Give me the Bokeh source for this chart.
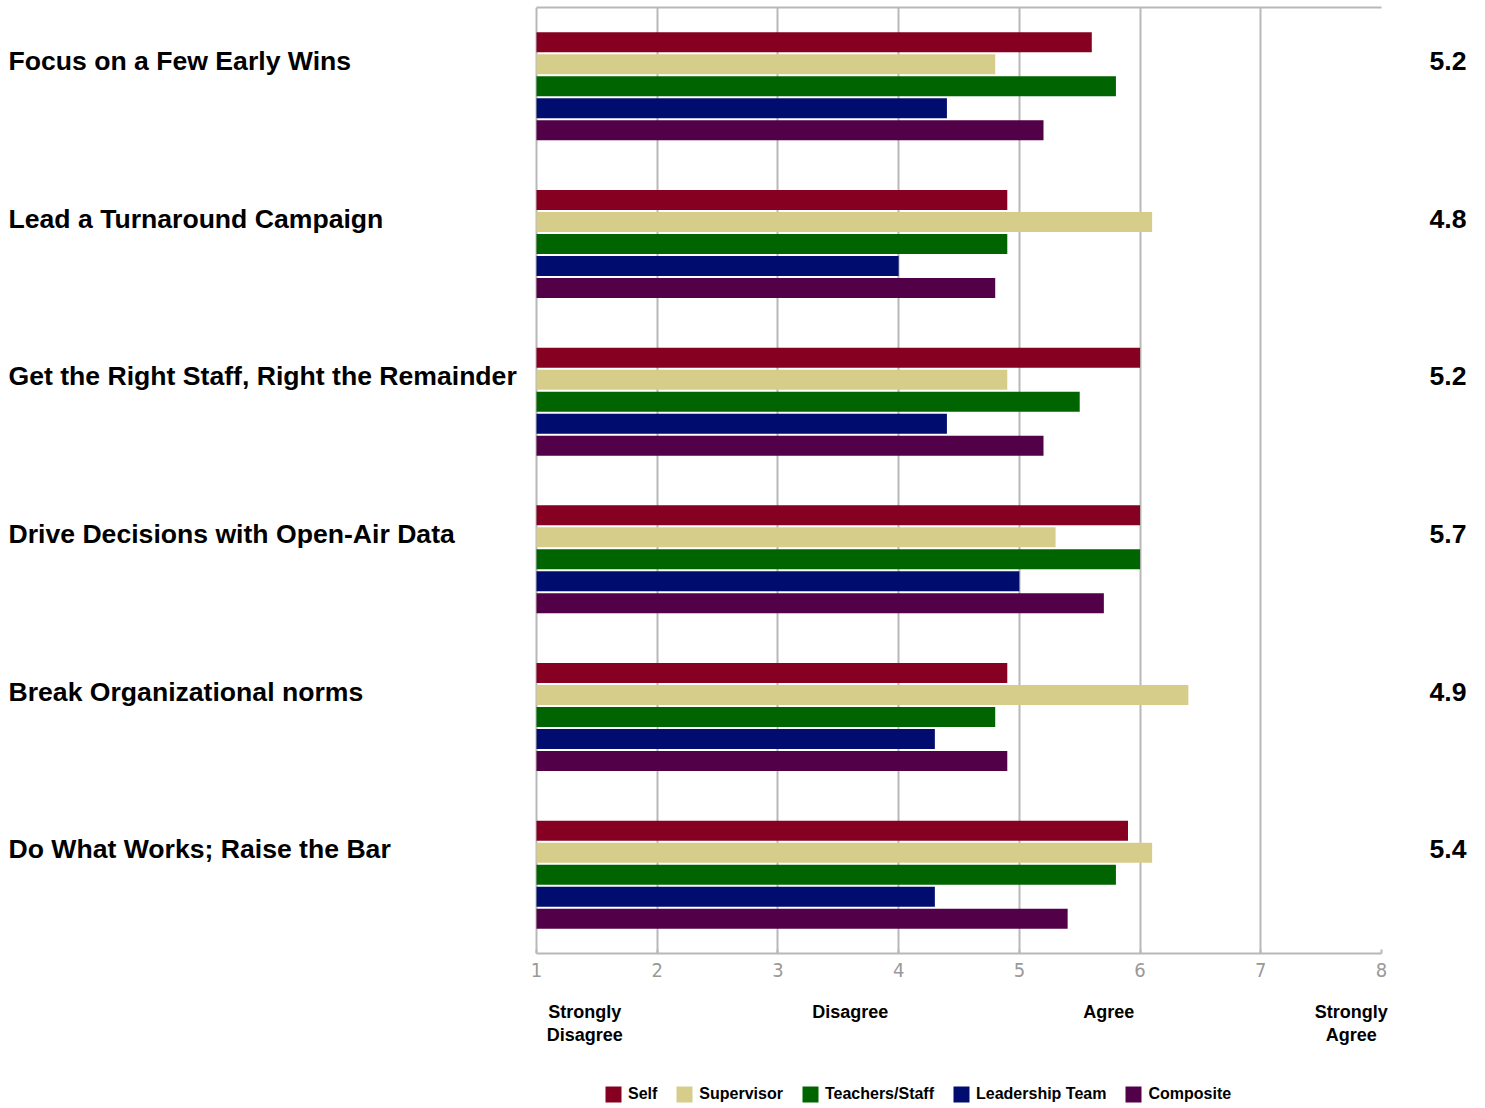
from bokeh.plotting import figure
from bokeh.models import (Range1d, FixedTicker, LinearAxis, ColumnDataSource,
                          Legend, LegendItem, Grid)
from bokeh.layouts import column
from bokeh.core.properties import value
from bokeh.embed import file_html
from bokeh.resources import INLINE

# ---------------- data ----------------
categories = [
    "Focus on a Few Early Wins",
    "Lead a Turnaround Campaign",
    "Get the Right Staff, Right the Remainder",
    "Drive Decisions with Open-Air Data",
    "Break Organizational norms",
    "Do What Works; Raise the Bar",
]
series_names = ["Self", "Supervisor", "Teachers/Staff", "Leadership Team", "Composite"]
self_vals = [5.6, 4.9, 6.0, 6.0, 4.9, 5.9]
supervisor_vals = [4.8, 6.1, 4.9, 5.3, 6.4, 6.1]
teachers_vals = [5.8, 4.9, 5.5, 6.0, 4.8, 5.8]
leadership_vals = [4.4, 4.0, 4.4, 5.0, 4.3, 4.3]
composite_vals = [5.2, 4.8, 5.2, 5.7, 4.9, 5.4]
x_ticks = [1, 2, 3, 4, 5, 6, 7, 8]
scale_labels = ["Strongly\nDisagree", "Disagree", "Agree", "Strongly\nAgree"]

# ---------------- styling / layout ----------------
colors = ["#850021", "#D7CD8B", "#006400", "#000C6E", "#520048"]
scale_label_pos = [1.40, 3.60, 5.74, 7.75]
W, H = 1485, 1108
H_LEG = 48
H_MAIN = H - H_LEG
PLOT_L, PLOT_R = 536, 1381          # pixel extent of the 1..8 scale
PX = (PLOT_R - PLOT_L) / 7.0        # pixels per unit
X0 = 1 - PLOT_L / PX
X1 = 8 + (W - PLOT_R) / PX
BAR_STEP = 0.1395
BAR_H = 0.127
LABEL_SHIFT = 0.16
GRID = "#b8b8b8"
FONT = "Liberation Sans"

p = figure(
    width=W, height=H_MAIN,
    x_range=Range1d(X0, X1), y_range=Range1d(6, 0),
    output_backend="svg", toolbar_location=None,
    y_axis_location=None, x_axis_location=None,
    min_border_left=0, min_border_right=0,
    min_border_top=7, min_border_bottom=H_MAIN - 953,
    outline_line_color=None,
    background_fill_color="white", border_fill_color="white",
)

all_vals = [self_vals, supervisor_vals, teachers_vals, leadership_vals, composite_vals]
sources = []
for j, (name, vals, col) in enumerate(zip(series_names, all_vals, colors)):
    src = ColumnDataSource(dict(
        y=[i + 0.5 + (j - 2) * BAR_STEP for i in range(len(categories))],
        right=vals,
    ))
    sources.append(src)
    p.hbar(y="y", left=x_ticks[0], right="right", height=BAR_H, source=src,
           fill_color=col, line_color=None)

# top border line (axis with no ticks)
top_axis = LinearAxis(ticker=FixedTicker(ticks=[]), bounds=(x_ticks[0], x_ticks[-1]),
                      axis_line_color=GRID, axis_line_width=2,
                      major_tick_in=0, major_tick_out=0, minor_tick_in=0, minor_tick_out=0)
p.add_layout(top_axis, "above")

# main x axis
xa = LinearAxis(ticker=FixedTicker(ticks=x_ticks), bounds=(x_ticks[0], x_ticks[-1]))
xa.axis_line_color = GRID
xa.axis_line_width = 2
xa.major_tick_in = 4
xa.major_tick_out = 0
xa.major_tick_line_color = GRID
xa.major_tick_line_width = 2
xa.minor_tick_line_color = None
xa.major_label_text_color = "#999999"
xa.major_label_text_font = "DejaVu Sans Condensed"
xa.major_label_text_font_size = "20px"
xa.major_label_standoff = 9
p.add_layout(xa, "below")

# scale descriptor axis
sa = LinearAxis(ticker=FixedTicker(ticks=scale_label_pos),
                major_label_overrides={pos: t for pos, t in zip(scale_label_pos, scale_labels)})
sa.axis_line_color = None
sa.major_tick_line_color = None
sa.minor_tick_line_color = None
sa.major_tick_in = 0
sa.major_tick_out = 0
sa.major_label_text_font = FONT
sa.major_label_text_font_style = "bold"
sa.major_label_text_font_size = "18px"
sa.major_label_text_color = "black"
sa.major_label_text_line_height = 1.15
sa.major_label_standoff = 22
p.add_layout(sa, "below")

# grid
p.xgrid.visible = False
p.ygrid.visible = False
p.add_layout(Grid(dimension=0, ticker=FixedTicker(ticks=x_ticks[:-1]),
                  grid_line_color=GRID, grid_line_width=2))

# category labels (left) and composite values (right)
lab_src = ColumnDataSource(dict(
    y=[i + 0.5 - LABEL_SHIFT for i in range(len(categories))],
    cat=categories,
    val=["%.1f" % v for v in composite_vals],
))
p.text(x=x_ticks[0], y="y", text="cat", source=lab_src, x_offset=-(PLOT_L - 8),
       text_font=value(FONT), text_font_style="bold", text_font_size="26.6px",
       text_color="black", text_baseline="middle", text_align="left")
p.text(x=x_ticks[-1], y="y", text="val", source=lab_src, x_offset=85,
       text_font=value(FONT), text_font_style="bold", text_font_size="26.6px",
       text_color="black", text_baseline="middle", text_align="right")

# legend strip (hidden copies of the bar renderers supply the swatches)
p2 = figure(
    width=W, height=H_LEG, x_range=Range1d(0, W), y_range=Range1d(0, H_LEG),
    output_backend="svg", toolbar_location=None,
    x_axis_location=None, y_axis_location=None,
    min_border=0, outline_line_color=None,
    background_fill_color="white", border_fill_color="white",
)
p2.xgrid.visible = False
p2.ygrid.visible = False
leg_renderers = []
for src, col in zip(sources, colors):
    r = p2.hbar(y="y", left=x_ticks[0], right="right", height=BAR_H, source=src,
                fill_color=col, line_color=None, visible=False)
    leg_renderers.append(r)

lg = Legend(items=[LegendItem(label=n, renderers=[r], index=0)
                   for n, r in zip(series_names, leg_renderers)])
lg.location = (603, 4)
lg.orientation = "horizontal"
lg.glyph_width = 20
lg.glyph_height = 20
lg.label_height = 16
lg.label_standoff = 5
lg.spacing = 17
lg.padding = 0
lg.margin = 0
lg.border_line_color = None
lg.background_fill_alpha = 0
lg.inactive_fill_alpha = 0
lg.label_text_font = FONT
lg.label_text_font_style = "bold"
lg.label_text_font_size = "16px"
lg.label_text_color = "black"
p2.add_layout(lg)

layout = column(p, p2, spacing=0)
open("out.html", "w").write(file_html(layout, INLINE))
